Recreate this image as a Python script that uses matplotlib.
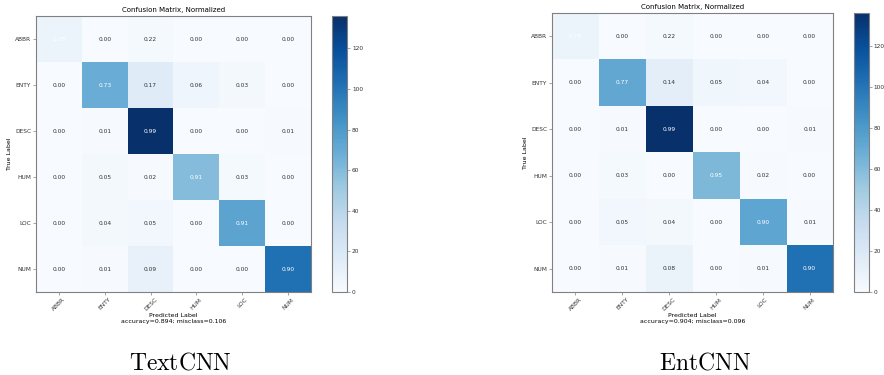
import numpy as np
import matplotlib
matplotlib.use("Agg")
import matplotlib.pyplot as plt

plt.rcParams['mathtext.fontset'] = 'cm'

# Classes du jeu TREC
classes = ['ABBR', 'ENTY', 'DESC', 'HUM', 'LOC', 'NUM']

# Matrices de confusion (comptes bruts, lignes = vraie classe)
cm_textcnn = np.array([
    [7, 0, 2, 0, 0, 0],
    [0, 69, 16, 6, 3, 0],
    [0, 1, 136, 0, 0, 1],
    [0, 3, 1, 59, 2, 0],
    [0, 3, 4, 0, 74, 0],
    [0, 1, 10, 0, 0, 102],
])
cm_entcnn = np.array([
    [7, 0, 2, 0, 0, 0],
    [0, 72, 13, 5, 4, 0],
    [0, 1, 136, 0, 0, 1],
    [0, 2, 0, 62, 1, 0],
    [0, 4, 3, 0, 73, 1],
    [0, 1, 9, 0, 1, 102],
])
captions = ['TextCNN', 'EntCNN']

GRAY = '#808080'


def plot_cm(fig, ax, cax, cm):
    accuracy = np.trace(cm) / float(np.sum(cm))
    misclass = 1 - accuracy

    im = ax.imshow(cm, interpolation='nearest', cmap=plt.cm.Blues, aspect='auto')
    ax.set_title('Confusion Matrix, Normalized', fontsize=5, pad=3)
    cb = fig.colorbar(im, cax=cax)
    cb.outline.set_edgecolor(GRAY)
    cb.outline.set_linewidth(0.8)
    cb.set_ticks([0, 20, 40, 60, 80, 100, 120])
    cax.tick_params(labelsize=4.2, length=2, width=0.5, color=GRAY, pad=1.5,
                    labelcolor='#333333')

    ticks = np.arange(len(classes))
    ax.set_xticks(ticks)
    ax.set_xticklabels(classes, rotation=45, ha='center')
    ax.set_yticks(ticks)
    ax.set_yticklabels(classes)
    ax.tick_params(labelsize=4.2, length=2, width=0.5, color=GRAY, pad=1.5,
                   labelcolor='#333333')

    # normalisation pour le texte
    cmn = cm.astype('float') / cm.sum(axis=1)[:, np.newaxis]
    thresh = cmn.max() / 1.5
    for i in range(cmn.shape[0]):
        for j in range(cmn.shape[1]):
            ax.text(j, i, "{:0.2f}".format(cmn[i, j]), ha='center', va='center',
                    fontsize=4.2,
                    color='white' if cmn[i, j] > thresh else '#333333')

    for s in ax.spines.values():
        s.set_edgecolor(GRAY)
        s.set_linewidth(0.8)

    ax.set_ylabel('True Label', fontsize=4.5, labelpad=2)
    ax.set_xlabel('Predicted Label\naccuracy={:0.3f}; misclass={:0.3f}'.format(accuracy, misclass),
                  fontsize=4.5, labelpad=1, linespacing=1.1)


fig = plt.figure(figsize=(8.84, 3.75), dpi=100)

ax1 = fig.add_axes([0.0407, 0.2213, 0.311, 0.736])
cax1 = fig.add_axes([0.3756, 0.2213, 0.017, 0.736])
ax2 = fig.add_axes([0.6244, 0.2213, 0.318, 0.744])
cax2 = fig.add_axes([0.966, 0.2213, 0.017, 0.744])

plot_cm(fig, ax1, cax1, cm_textcnn)
plot_cm(fig, ax2, cax2, cm_entcnn)

fig.text(180 / 884, 1 - 362 / 375, r'$\mathrm{' + captions[0] + '}$', fontsize=17,
         ha='center', va='center')
fig.text(705 / 884, 1 - 362 / 375, r'$\mathrm{' + captions[1] + '}$', fontsize=17,
         ha='center', va='center')

fig.savefig('out.png', dpi=100)
